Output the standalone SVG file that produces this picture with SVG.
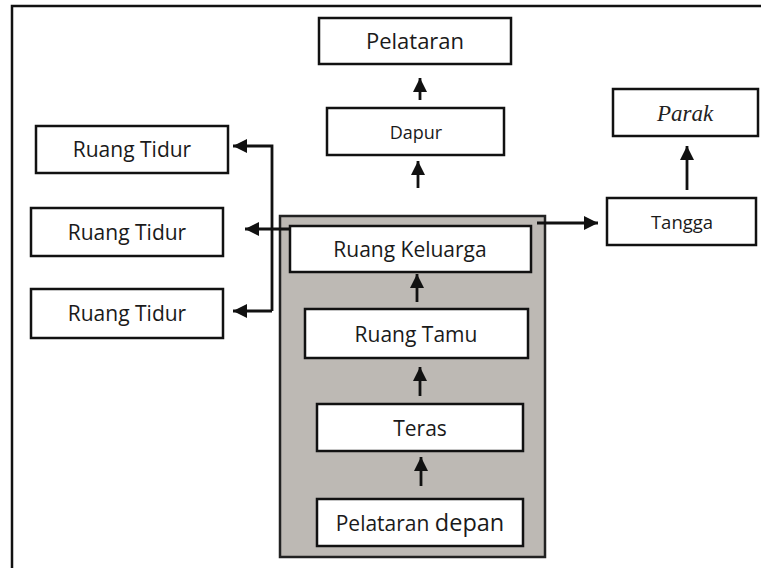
<svg xmlns="http://www.w3.org/2000/svg" width="761" height="568" viewBox="0 0 761 568">
<style>
.box{fill:#fff;stroke:#111;stroke-width:2.5}
.t{font-family:"Open Sans","Noto Sans",sans-serif;font-size:21px;fill:#1a1a1a;text-anchor:middle}
.c{fill:none;stroke:#111;stroke-width:2.8}
</style>
<defs>
<marker id="ah" markerUnits="userSpaceOnUse" markerWidth="16" markerHeight="16" refX="14" refY="7" orient="auto">
<path d="M0,0 L14,7 L0,14 Z" fill="#111"/>
</marker>
</defs>
<rect x="0" y="0" width="761" height="568" fill="#fff"/>
<path d="M12,568 L12,6 L761,6" fill="none" stroke="#111" stroke-width="2.5"/>
<g id="container"><rect x="280" y="216" width="265" height="341" fill="#bdb9b4" stroke="#222" stroke-width="2.5"/></g>
<g id="pelataran"><rect class="box" x="319" y="18" width="192" height="46"/><text class="t" x="415" y="49" style="font-size:22px">Pelataran</text></g>
<g id="dapur"><rect class="box" x="327" y="108" width="177" height="47"/><text class="t" x="416" y="139" style="font-size:18px">Dapur</text></g>
<g id="parak"><rect class="box" x="613" y="89" width="145" height="47"/><text x="685" y="121" text-anchor="middle" style="font-family:'Liberation Serif',serif;font-style:italic;font-size:23px;fill:#222">Parak</text></g>
<g id="tangga"><rect class="box" x="607" y="198" width="149" height="47"/><text class="t" x="682" y="229" style="font-size:18.5px">Tangga</text></g>
<g id="tidur1"><rect class="box" x="36" y="126" width="192" height="47"/><text class="t" x="132" y="157">Ruang Tidur</text></g>
<g id="tidur2"><rect class="box" x="31" y="208" width="192" height="48"/><text class="t" x="127" y="240">Ruang Tidur</text></g>
<g id="tidur3"><rect class="box" x="31" y="289" width="192" height="49"/><text class="t" x="127" y="321">Ruang Tidur</text></g>
<g id="keluarga"><rect class="box" x="290" y="226" width="241" height="46"/><text class="t" x="410" y="257">Ruang Keluarga</text></g>
<g id="tamu"><rect class="box" x="305" y="309" width="223" height="49"/><text class="t" x="416" y="342">Ruang Tamu</text></g>
<g id="teras"><rect class="box" x="317" y="404" width="206" height="47"/><text class="t" x="420" y="436">Teras</text></g>
<g id="depan"><rect class="box" x="317" y="499" width="206" height="47"/><text class="t" x="420" y="531"><tspan style="font-size:21px">Pelataran </tspan><tspan style="font-size:23.5px">depan</tspan></text></g>
<g id="connectors">
<path class="c" d="M420,100 L420,78" marker-end="url(#ah)"/>
<path class="c" d="M418,188 L418,161" marker-end="url(#ah)"/>
<path class="c" d="M687,190 L687,146" marker-end="url(#ah)"/>
<path class="c" d="M537,223 L598,223" marker-end="url(#ah)"/>
<path class="c" d="M272,311 L272,146 L233,146" marker-end="url(#ah)"/>
<path class="c" d="M290,229 L245,229" marker-end="url(#ah)"/>
<path class="c" d="M272,311 L233,311" marker-end="url(#ah)"/>
<path class="c" d="M417,302 L417,274" marker-end="url(#ah)"/>
<path class="c" d="M420,396 L420,367" marker-end="url(#ah)"/>
<path class="c" d="M421,486 L421,457" marker-end="url(#ah)"/>
</g>
</svg>
